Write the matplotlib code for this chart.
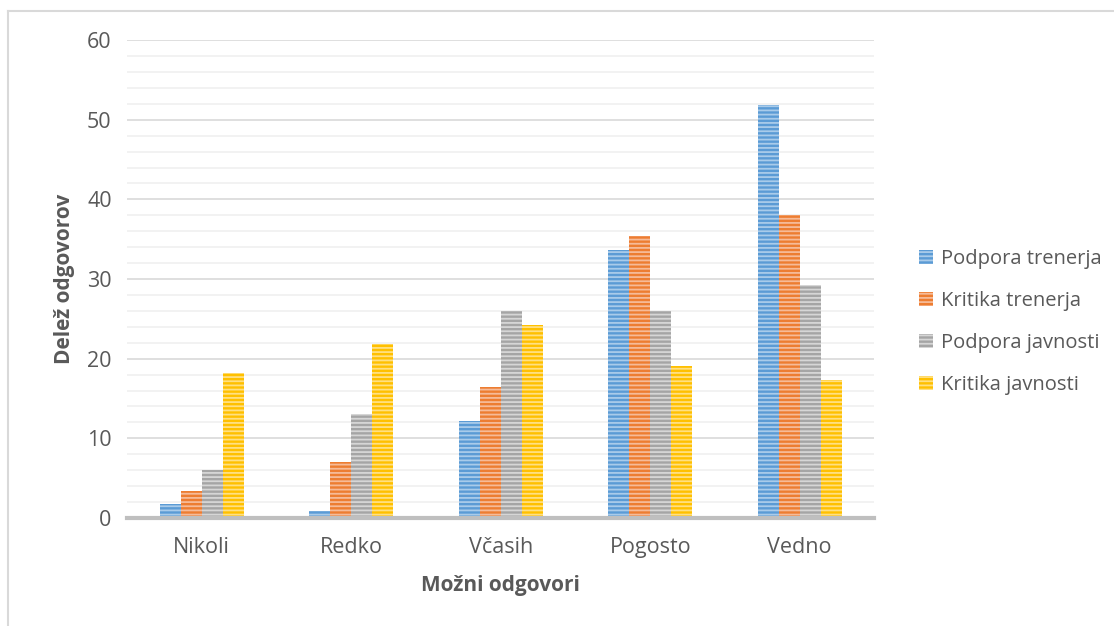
import matplotlib
matplotlib.use("Agg")
import matplotlib.pyplot as plt
import numpy as np
from matplotlib.lines import Line2D

# podatki odčitani s slike
kategorije = ["Nikoli", "Redko", "Včasih", "Pogosto", "Vedno"]
podpora_trenerja = [1.7, 0.9, 12.2, 33.6, 51.8]
kritika_trenerja = [3.4, 7.0, 16.5, 35.4, 38.0]
podpora_javnosti = [6.0, 13.0, 26.0, 26.0, 29.3]
kritika_javnosti = [18.2, 21.8, 24.2, 19.1, 17.3]

serije = ["Podpora trenerja", "Kritika trenerja", "Podpora javnosti", "Kritika javnosti"]
barve = ["#5B9BD5", "#ED7D31", "#A5A5A5", "#FFC000"]
svetle = ["#A9CBEA", "#F6BB98", "#D6D6D6", "#FFE083"]

plt.rcParams["font.family"] = ["Open Sans", "DejaVu Sans"]
plt.rcParams["hatch.linewidth"] = 1.3

fig = plt.figure(figsize=(11.14, 6.26), dpi=100)
ax = fig.add_axes([0.114, 0.1725, 0.671, 0.7635])

x = np.arange(len(kategorije))
w = 0.14
vrednosti = [podpora_trenerja, kritika_trenerja, podpora_javnosti, kritika_javnosti]
for i, (ime, v) in enumerate(zip(serije, vrednosti)):
    ax.bar(x + (i - 1.5) * w, v, w, color=barve[i], edgecolor=svetle[i],
           linewidth=0, hatch="----", label=ime, zorder=3)

ax.set_xlim(-0.5, 4.5)
ax.set_ylim(0, 60)
ax.set_yticks(range(0, 61, 10))
ax.set_yticks(range(0, 61, 2), minor=True)
ax.grid(axis="y", which="major", color="#D9D9D9", linewidth=1.2, zorder=0)
ax.grid(axis="y", which="minor", color="#F0F0F0", linewidth=1.2, zorder=0)
ax.set_xticks(x)
ax.set_xticklabels(kategorije)

for s in ["top", "right", "left"]:
    ax.spines[s].set_visible(False)
ax.spines["bottom"].set_color("#BFBFBF")
ax.spines["bottom"].set_linewidth(3)
ax.spines["bottom"].set_zorder(4)

ax.tick_params(axis="both", which="both", length=0, labelsize=15.5, colors="#595959")
ax.tick_params(axis="y", pad=11)
ax.tick_params(axis="x", pad=14)

ax.set_xlabel("Možni odgovori", fontsize=15, fontweight="bold", color="#595959", labelpad=12)
ax.set_ylabel("Delež odgovorov", fontsize=15, fontweight="bold", color="#595959", labelpad=9)

leg = ax.legend(loc="center left", bbox_to_anchor=(1.035, 0.41), frameon=False,
                fontsize=14.5, labelspacing=1.1, handlelength=0.7, handleheight=0.7,
                handletextpad=0.4)
for t in leg.get_texts():
    t.set_color("#595959")

# okvir grafikona
fig.add_artist(Line2D([8 / 1114, 8 / 1114], [0, 1 - 11 / 626], color="#D9D9D9", linewidth=1.5))
fig.add_artist(Line2D([8 / 1114, 1], [1 - 11 / 626, 1 - 11 / 626], color="#D9D9D9", linewidth=1.5))

fig.savefig("out.png", dpi=100)
